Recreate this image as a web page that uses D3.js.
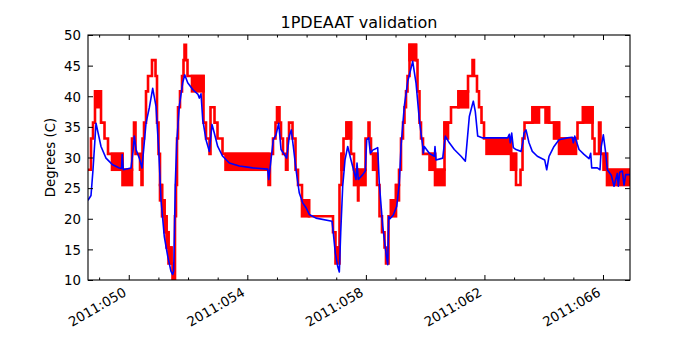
<!DOCTYPE html>
<html>
<head>
<meta charset="utf-8">
<script src="https://cdn.jsdelivr.net/npm/d3@7"></script>
<style>
  body { margin: 0; background: #fff; }
  text { font-family: "DejaVu Sans", sans-serif; fill: #000; }
</style>
</head>
<body>
<svg id="thesvg" width="700" height="350"></svg>
<script>
'use strict';

let title = "1PDEAAT validation",
    yLabel = "Degrees (C)",
    xStart = 48.625,   // day of year (2011)
    xEnd = 66.911,
    yTicks = [10, 15, 20, 25, 30, 35, 40, 45, 50],
    xMajor = [50, 54, 58, 62, 66],
    xLabels = ["2011:050", "2011:054", "2011:058", "2011:062", "2011:066"],
    xMinor = [49, 51, 52, 53, 55, 56, 57, 59, 60, 61, 63, 64, 65];

// telemetry: [start day, low, high] -- low != high where the value flips between two counts
let telemetry = [
  [48.625, 28.0, 28.0], [48.726, 33.1, 33.1], [48.794, 35.7, 35.7], [48.861, 40.8, 40.8],
  [48.946, 38.2, 38.2], [48.996, 40.8, 40.8], [49.064, 35.7, 35.7], [49.182, 33.1, 33.1],
  [49.300, 30.6, 30.6], [49.435, 28.0, 30.6], [49.789, 25.5, 28.0], [50.110, 33.1, 33.1],
  [50.177, 35.7, 35.7], [50.228, 30.6, 30.6], [50.380, 28.0, 28.0], [50.430, 25.5, 25.5],
  [50.464, 33.1, 33.1], [50.515, 35.7, 35.7], [50.582, 40.8, 40.8], [50.650, 43.3, 43.3],
  [50.784, 45.9, 45.9], [50.903, 43.3, 43.3], [50.953, 35.7, 35.7], [51.004, 30.6, 30.6],
  [51.054, 23.0, 25.5], [51.122, 20.4, 23.0], [51.206, 17.8, 20.4], [51.274, 15.3, 17.8],
  [51.341, 12.7, 15.3], [51.442, 12.7, 12.7], [51.476, 10.0, 10.0], [51.560, 20.4, 20.4],
  [51.594, 25.5, 25.5], [51.628, 33.1, 33.1], [51.662, 38.2, 38.2], [51.729, 40.8, 40.8],
  [51.797, 43.3, 43.3], [51.847, 45.9, 45.9], [51.881, 48.4, 48.4], [51.931, 45.9, 45.9],
  [51.982, 43.3, 43.3], [52.134, 40.8, 43.3], [52.522, 35.7, 35.7], [52.606, 33.1, 33.1],
  [52.724, 30.6, 30.6], [52.758, 38.2, 38.2], [52.893, 35.7, 35.7], [52.994, 33.1, 33.1],
  [53.163, 30.6, 30.6], [53.264, 28.0, 30.6], [54.715, 25.5, 25.5], [54.765, 30.6, 30.6],
  [54.867, 33.1, 33.1], [54.951, 35.7, 35.7], [55.002, 38.2, 38.2], [55.086, 35.7, 35.7],
  [55.137, 33.1, 33.1], [55.204, 30.6, 30.6], [55.305, 28.0, 28.0], [55.356, 33.1, 33.1],
  [55.407, 35.7, 35.7], [55.525, 33.1, 33.1], [55.626, 28.0, 28.0], [55.710, 25.5, 25.5],
  [55.845, 20.4, 23.0], [56.081, 20.4, 20.4], [56.891, 17.8, 17.8], [56.975, 12.7, 15.3],
  [57.110, 25.5, 25.5], [57.178, 28.0, 30.6], [57.245, 33.1, 33.1], [57.347, 33.1, 35.7],
  [57.498, 30.6, 30.6], [57.600, 25.5, 28.0], [57.734, 23.0, 23.0], [57.750, 25.5, 28.0],
  [57.988, 33.1, 33.1], [58.089, 35.7, 35.7], [58.122, 33.1, 33.1], [58.173, 30.6, 30.6],
  [58.241, 28.0, 30.6], [58.376, 25.5, 25.5], [58.460, 20.4, 20.4], [58.544, 17.8, 17.8],
  [58.629, 15.3, 15.3], [58.679, 12.7, 12.7], [58.764, 20.4, 20.4], [58.848, 20.4, 23.0],
  [59.017, 23.0, 25.5], [59.118, 28.0, 28.0], [59.185, 33.1, 33.1], [59.253, 35.7, 35.7],
  [59.303, 38.2, 38.2], [59.354, 40.8, 40.8], [59.405, 43.3, 43.3], [59.472, 45.9, 48.4],
  [59.691, 45.9, 45.9], [59.742, 40.8, 40.8], [59.809, 35.7, 35.7], [59.860, 33.1, 33.1],
  [59.928, 30.6, 30.6], [60.147, 28.0, 30.6], [60.332, 25.5, 28.0], [60.653, 33.1, 35.7],
  [60.771, 35.7, 35.7], [60.872, 38.2, 38.2], [61.125, 38.2, 40.8], [61.446, 43.3, 43.3],
  [61.598, 45.9, 45.9], [61.648, 43.3, 43.3], [61.749, 40.8, 40.8], [61.817, 38.2, 38.2],
  [61.901, 35.7, 35.7], [61.986, 33.1, 33.1], [62.070, 30.6, 33.1], [62.897, 28.0, 30.6],
  [63.065, 25.5, 25.5], [63.217, 28.0, 28.0], [63.285, 33.1, 33.1], [63.352, 35.7, 35.7],
  [63.622, 35.7, 38.2], [63.841, 38.2, 38.2], [64.061, 35.7, 38.2], [64.179, 35.7, 35.7],
  [64.347, 33.1, 35.7], [64.516, 30.6, 33.1], [65.090, 33.1, 33.1], [65.140, 35.7, 35.7],
  [65.326, 35.7, 38.2], [65.646, 33.1, 33.1], [65.714, 30.6, 30.6], [65.866, 35.7, 35.7],
  [65.916, 30.6, 30.6], [66.017, 28.0, 30.6], [66.135, 25.5, 28.0]
];

// model prediction: [day, degrees C]
let model = [
  [48.625, 23.0], [48.726, 23.8], [48.794, 28.0], [48.895, 35.6], [49.064, 31.8], [49.232, 29.9],
  [49.458, 28.8], [49.681, 28.3], [49.755, 28.2], [49.779, 30.5], [49.816, 28.0], [50.076, 28.3],
  [50.143, 31.0], [50.187, 33.5], [50.245, 31.3], [50.356, 29.9], [50.447, 28.3], [50.582, 35.6],
  [50.693, 38.1], [50.808, 41.3], [50.919, 38.4], [51.010, 31.3], [51.088, 23.1], [51.199, 17.1],
  [51.314, 13.9], [51.425, 11.4], [51.483, 10.9], [51.517, 11.5], [51.571, 25.8], [51.618, 32.4],
  [51.706, 38.4], [51.820, 42.2], [51.888, 43.5], [51.989, 42.2], [52.158, 41.1], [52.336, 40.3],
  [52.380, 39.7], [52.438, 40.4], [52.495, 36.2], [52.606, 32.9], [52.718, 31.0], [52.809, 35.4],
  [52.886, 34.0], [53.001, 31.8], [53.170, 30.2], [53.392, 29.1], [53.730, 28.6], [54.182, 28.3],
  [54.688, 28.1], [54.722, 26.4], [54.765, 28.2], [54.877, 32.9], [54.968, 33.7], [55.059, 35.6],
  [55.137, 31.3], [55.248, 30.5], [55.329, 29.9], [55.417, 33.5], [55.484, 34.5], [55.552, 31.8],
  [55.643, 28.0], [55.754, 24.2], [55.869, 22.6], [55.980, 21.8], [56.091, 20.7], [56.318, 20.1],
  [56.857, 19.6], [56.901, 17.7], [56.969, 14.4], [57.050, 12.2], [57.104, 11.3], [57.151, 17.7],
  [57.218, 25.3], [57.296, 29.6], [57.387, 31.8], [57.498, 29.6], [57.610, 27.5], [57.667, 26.4],
  [57.701, 29.1], [57.745, 26.4], [57.893, 27.2], [57.981, 27.8], [58.028, 32.9], [58.096, 33.2],
  [58.150, 30.7], [58.231, 31.2], [58.399, 31.6], [58.453, 25.8], [58.568, 18.8], [58.679, 14.4],
  [58.737, 12.5], [58.770, 20.4], [58.814, 20.0], [58.926, 20.6], [59.040, 22.0], [59.128, 25.8],
  [59.185, 31.8], [59.297, 38.4], [59.411, 42.4], [59.580, 45.7], [59.691, 42.2], [59.803, 36.2],
  [59.917, 31.8], [59.938, 30.7], [59.971, 31.8], [60.140, 30.7], [60.309, 30.2], [60.332, 31.8],
  [60.366, 29.6], [60.592, 29.9], [60.680, 33.5], [60.815, 32.4], [60.983, 31.3], [61.210, 30.2],
  [61.355, 29.4], [61.378, 30.5], [61.490, 36.7], [61.581, 38.4], [61.625, 39.2], [61.692, 37.5],
  [61.773, 33.5], [61.942, 33.2], [62.785, 33.2], [62.839, 33.8], [62.873, 32.4], [62.920, 34.0],
  [62.974, 31.6], [63.065, 31.3], [63.234, 31.0], [63.301, 32.6], [63.335, 34.0], [63.403, 34.5],
  [63.504, 32.4], [63.615, 31.0], [63.784, 30.2], [64.033, 29.6], [64.101, 28.0], [64.179, 30.2],
  [64.347, 31.8], [64.516, 32.9], [64.796, 33.2], [64.965, 33.3], [64.998, 32.4], [65.046, 33.5],
  [65.191, 31.3], [65.359, 30.5], [65.528, 29.8], [65.585, 30.7], [65.619, 28.3], [65.808, 28.3],
  [65.899, 28.0], [65.943, 31.8], [66.011, 33.7], [66.092, 30.7], [66.146, 28.0], [66.280, 27.1],
  [66.372, 25.3], [66.429, 26.4], [66.483, 27.4], [66.517, 25.3], [66.564, 27.6], [66.652, 27.8],
  [66.709, 25.5], [66.766, 27.2], [66.911, 27.2]
];

var svg = d3.select("#thesvg"),
    margin = {top: 35, right: 70, bottom: 70, left: 88},
    width = +svg.attr("width") - margin.left - margin.right,
    height = +svg.attr("height") - margin.top - margin.bottom,
    x = d3.scaleLinear().domain([xStart, xEnd]).range([0, width]),
    y = d3.scaleLinear().domain([10, 50]).range([height, 0]);

svg.append("text")
    .attr("x", margin.left + width / 2)
    .attr("y", 28)
    .attr("text-anchor", "middle")
    .style("font-size", "16px")
    .text(title);

let g = svg.append("g")
    .attr("transform", "translate(" + margin.left + "," + margin.top + ")");

g.append("clipPath").attr("id", "plotclip")
  .append("rect").attr("width", width).attr("height", height);

let plot = g.append("g").attr("clip-path", "url(#plotclip)");

// red telemetry: a step line, with filled blocks where it flips between two counts
let steps = telemetry.map(function(d, i) {
  return {t0: d[0], t1: i < telemetry.length - 1 ? telemetry[i + 1][0] : xEnd, lo: d[1], hi: d[2]};
});

plot.selectAll(".flip")
    .data(steps.filter(function(d) { return d.lo !== d.hi; }))
  .enter().append("rect")
    .attr("class", "flip")
    .attr("x", function(d) { return x(d.t0); })
    .attr("y", function(d) { return y(d.hi); })
    .attr("width", function(d) { return x(d.t1) - x(d.t0); })
    .attr("height", function(d) { return y(d.lo) - y(d.hi); })
    .attr("fill", "#ff0000")
    .attr("stroke", "#ff0000")
    .attr("stroke-width", 2.6);

let stepPts = steps.map(function(d) { return [d.t0, d.hi]; });
stepPts.push([xEnd, steps[steps.length - 1].hi]);

plot.append("path")
    .datum(stepPts)
    .attr("fill", "none")
    .attr("stroke", "#ff0000")
    .attr("stroke-width", 2.6)
    .attr("d", d3.line()
        .curve(d3.curveStepAfter)
        .x(function(d) { return x(d[0]); })
        .y(function(d) { return y(d[1]); }));

// blue model
plot.append("path")
    .datum(model)
    .attr("fill", "none")
    .attr("stroke", "#0000ff")
    .attr("stroke-width", 1.6)
    .attr("stroke-linejoin", "round")
    .attr("d", d3.line()
        .x(function(d) { return x(d[0]); })
        .y(function(d) { return y(d[1]); }));

// axes, ticks point inwards on all four sides
let xAxis = g.append("g")
    .attr("class", "axis")
    .attr("transform", "translate(0," + height + ")")
    .call(d3.axisBottom(x).tickValues(xMajor).tickSize(-5).tickSizeOuter(0)
        .tickFormat(function(d, i) { return xLabels[i]; }));

xAxis.selectAll("text")
    .attr("x", 0).attr("y", 0).attr("dy", 0)
    .attr("text-anchor", "end")
    .attr("transform", "translate(-2,15) rotate(-30)")
    .style("font-size", "13.33px");

g.append("g")
    .attr("transform", "translate(0," + height + ")")
    .call(d3.axisBottom(x).tickValues(xMinor).tickSize(-2.5).tickSizeOuter(0).tickFormat(""));

g.append("g")
    .call(d3.axisTop(x).tickValues(xMajor).tickSize(-5).tickSizeOuter(0).tickFormat(""));

g.append("g")
    .call(d3.axisTop(x).tickValues(xMinor).tickSize(-2.5).tickSizeOuter(0).tickFormat(""));

g.append("g")
    .call(d3.axisLeft(y).tickValues(yTicks).tickSize(-5).tickSizeOuter(0).tickPadding(7))
  .selectAll("text")
    .attr("dy", "0.36em")
    .style("font-size", "13.33px");

g.append("g")
    .attr("transform", "translate(" + width + ",0)")
    .call(d3.axisRight(y).tickValues(yTicks).tickSize(-5).tickSizeOuter(0).tickFormat(""));

g.selectAll(".domain").remove();
g.selectAll(".tick line").attr("stroke", "#000").attr("stroke-width", 1);
g.selectAll(".tick text").attr("font-family", null).style("fill", "#000");

g.append("rect")
    .attr("width", width)
    .attr("height", height)
    .attr("fill", "none")
    .attr("stroke", "#000")
    .attr("stroke-width", 1.1);

svg.append("text")
    .attr("transform", "translate(55," + (margin.top + height / 2) + ") rotate(-90)")
    .attr("text-anchor", "middle")
    .style("font-size", "13.33px")
    .text(yLabel);
</script>
</body>
</html>
